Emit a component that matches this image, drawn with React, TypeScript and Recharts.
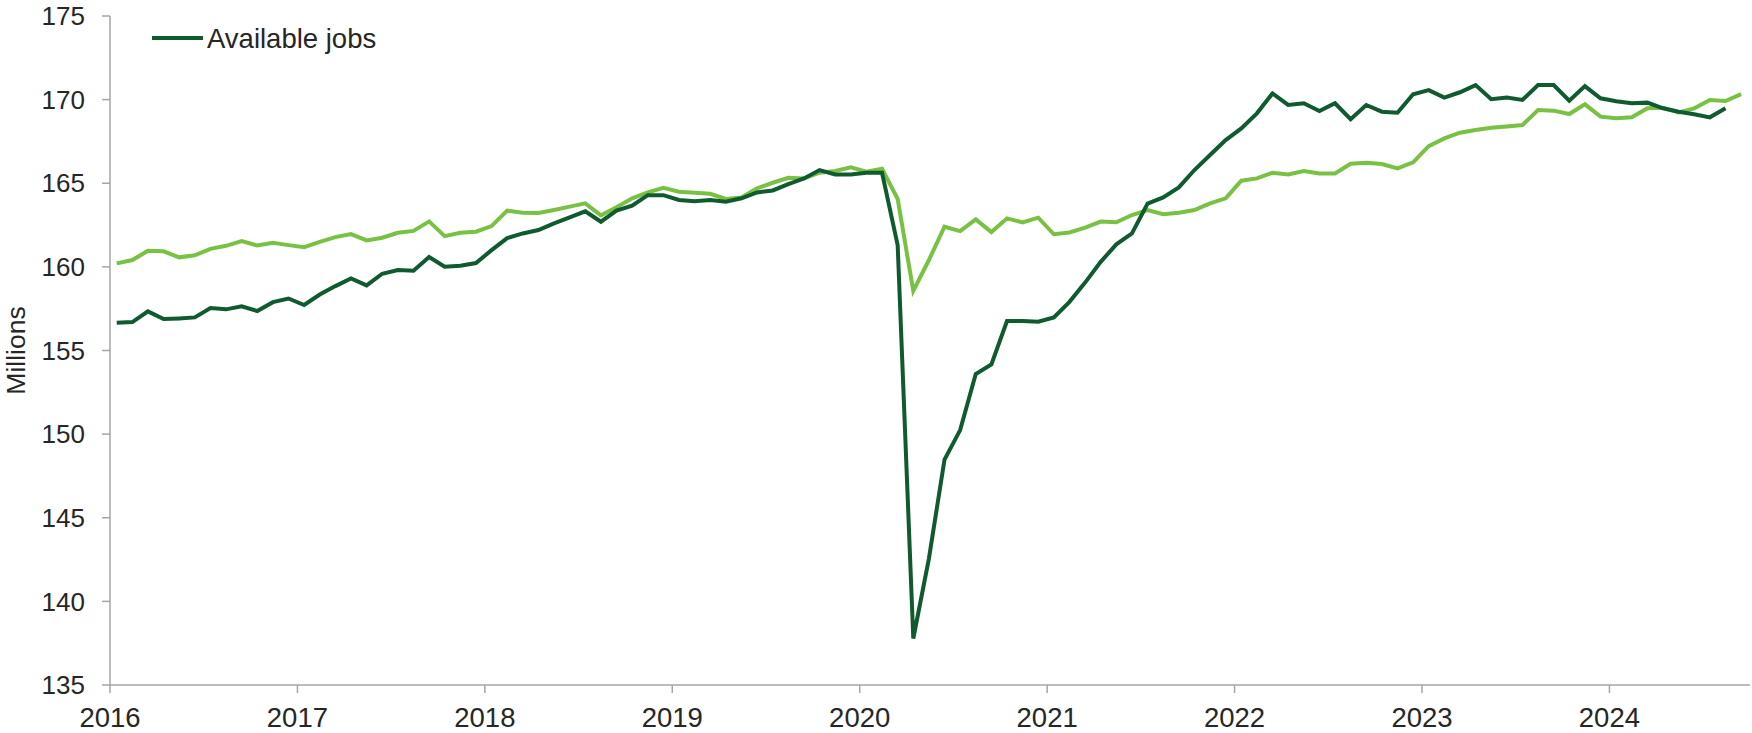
import React from "react";
import { LineChart, Line, XAxis, YAxis, Legend } from "recharts";

const DARK = "#0f5a2e";
const LIGHT = "#79c143";
const TEXT = "#262626";
const AXIS = "#a6a6a6";
const FONT = "'Liberation Sans', Arial, sans-serif";

// monthly values in millions, starting Jan 2016
const availableJobs = [
  156.66, 156.7, 157.34, 156.88, 156.92, 156.98, 157.54, 157.46, 157.64, 157.36, 157.89, 158.11,
  157.72, 158.35, 158.85, 159.31, 158.89, 159.59, 159.81, 159.77, 160.59, 160.01, 160.07, 160.23,
  161.0, 161.72, 162.0, 162.2, 162.6, 162.96, 163.32, 162.7, 163.36, 163.66, 164.29, 164.29,
  164.0, 163.92, 164.0, 163.9, 164.1, 164.45, 164.57, 164.95, 165.29, 165.79, 165.53, 165.53,
  165.63, 165.63, 161.3, 137.78, 142.56, 148.48, 150.24, 153.59, 154.17, 156.76, 156.76, 156.72,
  156.98, 157.91, 159.06, 160.3, 161.35, 162.0, 163.78, 164.15, 164.75, 165.79, 166.69, 167.58,
  168.28, 169.18, 170.37, 169.68, 169.78, 169.32, 169.78, 168.83, 169.68, 169.28, 169.22, 170.32,
  170.57, 170.12, 170.44, 170.87, 170.02, 170.12, 169.98, 170.87, 170.87, 169.94, 170.81, 170.08,
  169.9, 169.78, 169.82, 169.48, 169.28, 169.12, 168.94, 169.48,
];

const laborForce = [
  160.21, 160.41, 160.96, 160.93, 160.57, 160.69, 161.08, 161.26, 161.54, 161.28, 161.44, 161.3,
  161.18, 161.5, 161.78, 161.96, 161.58, 161.74, 162.04, 162.15, 162.72, 161.84, 162.04, 162.1,
  162.44, 163.36, 163.24, 163.22, 163.4, 163.6, 163.8, 163.08, 163.56, 164.1, 164.45, 164.73,
  164.49, 164.43, 164.37, 164.06, 164.15, 164.69, 165.03, 165.33, 165.29, 165.63, 165.73, 165.95,
  165.69, 165.87, 164.06, 158.56, 160.41, 162.4, 162.14, 162.84, 162.08, 162.9, 162.66, 162.94,
  161.95, 162.06, 162.35, 162.71, 162.67, 163.1, 163.4, 163.15, 163.24, 163.4, 163.8, 164.1,
  165.15, 165.29, 165.63, 165.53, 165.73, 165.59, 165.59, 166.17, 166.23, 166.15, 165.89, 166.25,
  167.22, 167.68, 168.02, 168.18, 168.32, 168.4, 168.48, 169.38, 169.34, 169.14, 169.72, 168.98,
  168.88, 168.94, 169.48, 169.52, 169.24, 169.48, 169.98, 169.92, 170.33,
];

const yearTicks = [2016, 2017, 2018, 2019, 2020, 2021, 2022, 2023, 2024];
const valueTicks = [135, 140, 145, 150, 155, 160, 165, 170, 175];

const START_YEAR = 2016;
// each point sits a little before mid-month on the date axis
const monthPos = (i: number) => START_YEAR + (i + 0.43) / 12;

const data = laborForce.map((v, i) => ({
  t: monthPos(i),
  labor: v,
  jobs: availableJobs[i],
}));

const yTickStyle = { fill: TEXT, fontSize: 26, fontFamily: FONT };
const xTickStyle = { fill: TEXT, fontSize: 27.5, fontFamily: FONT };

const renderLegend = () => (
  <svg width={300} height={40} style={{ display: "block" }}>
    <line x1={2} y1={20} x2={53} y2={20} stroke={DARK} strokeWidth={4} />
    <text
      x={57}
      y={20}
      dominantBaseline="central"
      fill={TEXT}
      fontSize={27.5}
      fontFamily={FONT}
    >
      Available jobs
    </text>
  </svg>
);

export default function App() {
  return (
    <div style={{ position: "absolute", left: 0, top: 0, background: "#fff" }}>
      <LineChart
        width={1752}
        height={733}
        data={data}
        margin={{ top: 16, right: 2, bottom: 0, left: 0 }}
      >
        <XAxis
          dataKey="t"
          type="number"
          domain={[2016, 2024.75]}
          ticks={yearTicks}
          allowDataOverflow
          height={48}
          stroke={AXIS}
          strokeWidth={1.5}
          tickSize={8}
          tickMargin={14}
          tick={xTickStyle}
        />
        <YAxis
          type="number"
          domain={[135, 175]}
          ticks={valueTicks}
          width={110}
          stroke={AXIS}
          strokeWidth={1.5}
          tickSize={8}
          tickMargin={17}
          tick={yTickStyle}
          label={{
            content: ({ viewBox }: any) => {
              const cy = viewBox.y + viewBox.height / 2;
              return (
                <text
                  x={16}
                  y={cy}
                  transform={`rotate(-90, 16, ${cy})`}
                  textAnchor="middle"
                  dominantBaseline="central"
                  fill={TEXT}
                  fontSize={26.5}
                  fontFamily={FONT}
                >
                  Millions
                </text>
              );
            },
          }}
        />
        <Legend
          content={renderLegend}
          layout="horizontal"
          align="center"
          verticalAlign="middle"
          wrapperStyle={{ position: "absolute", left: 150, top: 18, width: "auto" }}
        />
        <Line
          dataKey="labor"
          name="Labor force"
          stroke={LIGHT}
          strokeWidth={4}
          dot={false}
          legendType="none"
          isAnimationActive={false}
        />
        <Line
          dataKey="jobs"
          name="Available jobs"
          stroke={DARK}
          strokeWidth={4}
          dot={false}
          isAnimationActive={false}
        />
      </LineChart>
    </div>
  );
}
